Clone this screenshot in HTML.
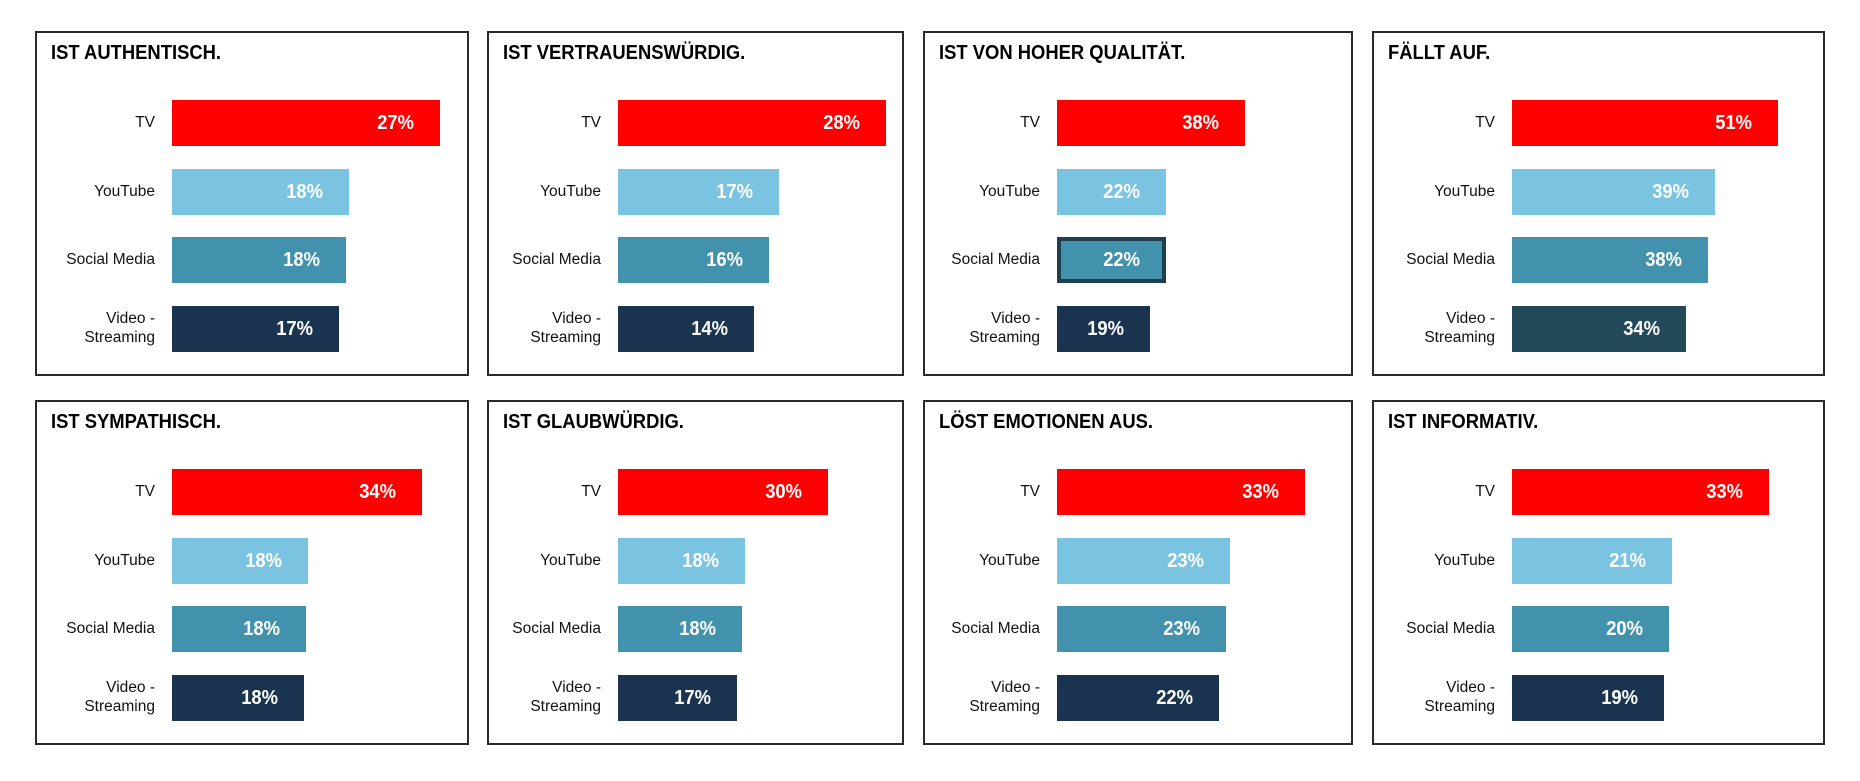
<!DOCTYPE html>
<html><head><meta charset="utf-8"><style>
body{margin:0;width:1860px;height:781px;background:#fff;position:relative;overflow:hidden;font-family:"Liberation Sans Narrow","Liberation Sans",sans-serif;}
.p{position:absolute;height:345px;border:2px solid #2a2a2a;box-sizing:border-box;}
.t{position:absolute;left:14px;top:9px;font-weight:bold;font-size:20px;color:#000;white-space:nowrap;transform:scaleX(0.92);transform-origin:left;}
.b{position:absolute;height:46px;box-sizing:border-box;color:#fff;font-weight:bold;font-size:20px;line-height:46px;text-align:right;padding-right:26px;}
.b span{display:inline-block;transform:scaleX(0.92);transform-origin:right;}
.l{position:absolute;width:118px;text-align:right;font-size:15.5px;color:#111;line-height:19px;}
.r{background:#ff0000}.y{background:#7ac4e2}.s{background:#4292ae}.v{background:#1a334f}
</style></head><body>

<div class="p" style="left:35px;top:31px;width:434px">
<div class="t">IST AUTHENTISCH.</div>
<div class="l" style="left:0;top:80px">TV</div><div class="l" style="left:0;top:149px">YouTube</div><div class="l" style="left:0;top:217px">Social Media</div><div class="l" style="left:0;top:276px">Video -<br>Streaming</div>
<div class="b r" style="left:135px;top:67px;width:268px"><span>27%</span></div>
<div class="b y" style="left:135px;top:136px;width:177px"><span>18%</span></div>
<div class="b s" style="left:135px;top:204px;width:174px"><span>18%</span></div>
<div class="b v" style="left:135px;top:273px;width:167px"><span>17%</span></div>
</div>

<div class="p" style="left:487px;top:31px;width:417px">
<div class="t">IST VERTRAUENSWÜRDIG.</div>
<div class="l" style="left:-6px;top:80px">TV</div><div class="l" style="left:-6px;top:149px">YouTube</div><div class="l" style="left:-6px;top:217px">Social Media</div><div class="l" style="left:-6px;top:276px">Video -<br>Streaming</div>
<div class="b r" style="left:129px;top:67px;width:268px"><span>28%</span></div>
<div class="b y" style="left:129px;top:136px;width:161px"><span>17%</span></div>
<div class="b s" style="left:129px;top:204px;width:151px"><span>16%</span></div>
<div class="b v" style="left:129px;top:273px;width:136px"><span>14%</span></div>
</div>

<div class="p" style="left:923px;top:31px;width:430px">
<div class="t">IST VON HOHER QUALITÄT.</div>
<div class="l" style="left:-3px;top:80px">TV</div><div class="l" style="left:-3px;top:149px">YouTube</div><div class="l" style="left:-3px;top:217px">Social Media</div><div class="l" style="left:-3px;top:276px">Video -<br>Streaming</div>
<div class="b r" style="left:132px;top:67px;width:188px"><span>38%</span></div>
<div class="b y" style="left:132px;top:136px;width:109px"><span>22%</span></div>
<div class="b s" style="left:132px;top:204px;width:109px;border:4px solid #1f3f4f;line-height:38px;padding-right:22px"><span>22%</span></div>
<div class="b v" style="left:132px;top:273px;width:93px"><span>19%</span></div>
</div>

<div class="p" style="left:1372px;top:31px;width:453px">
<div class="t">FÄLLT AUF.</div>
<div class="l" style="left:3px;top:80px">TV</div><div class="l" style="left:3px;top:149px">YouTube</div><div class="l" style="left:3px;top:217px">Social Media</div><div class="l" style="left:3px;top:276px">Video -<br>Streaming</div>
<div class="b r" style="left:138px;top:67px;width:266px"><span>51%</span></div>
<div class="b y" style="left:138px;top:136px;width:203px"><span>39%</span></div>
<div class="b s" style="left:138px;top:204px;width:196px"><span>38%</span></div>
<div class="b" style="left:138px;top:273px;width:174px;background:#234a5a"><span>34%</span></div>
</div>

<div class="p" style="left:35px;top:400px;width:434px">
<div class="t">IST SYMPATHISCH.</div>
<div class="l" style="left:0;top:80px">TV</div><div class="l" style="left:0;top:149px">YouTube</div><div class="l" style="left:0;top:217px">Social Media</div><div class="l" style="left:0;top:276px">Video -<br>Streaming</div>
<div class="b r" style="left:135px;top:67px;width:250px"><span>34%</span></div>
<div class="b y" style="left:135px;top:136px;width:136px"><span>18%</span></div>
<div class="b s" style="left:135px;top:204px;width:134px"><span>18%</span></div>
<div class="b v" style="left:135px;top:273px;width:132px"><span>18%</span></div>
</div>

<div class="p" style="left:487px;top:400px;width:417px">
<div class="t">IST GLAUBWÜRDIG.</div>
<div class="l" style="left:-6px;top:80px">TV</div><div class="l" style="left:-6px;top:149px">YouTube</div><div class="l" style="left:-6px;top:217px">Social Media</div><div class="l" style="left:-6px;top:276px">Video -<br>Streaming</div>
<div class="b r" style="left:129px;top:67px;width:210px"><span>30%</span></div>
<div class="b y" style="left:129px;top:136px;width:127px"><span>18%</span></div>
<div class="b s" style="left:129px;top:204px;width:124px"><span>18%</span></div>
<div class="b v" style="left:129px;top:273px;width:119px"><span>17%</span></div>
</div>

<div class="p" style="left:923px;top:400px;width:430px">
<div class="t">LÖST EMOTIONEN AUS.</div>
<div class="l" style="left:-3px;top:80px">TV</div><div class="l" style="left:-3px;top:149px">YouTube</div><div class="l" style="left:-3px;top:217px">Social Media</div><div class="l" style="left:-3px;top:276px">Video -<br>Streaming</div>
<div class="b r" style="left:132px;top:67px;width:248px"><span>33%</span></div>
<div class="b y" style="left:132px;top:136px;width:173px"><span>23%</span></div>
<div class="b s" style="left:132px;top:204px;width:169px"><span>23%</span></div>
<div class="b v" style="left:132px;top:273px;width:162px"><span>22%</span></div>
</div>

<div class="p" style="left:1372px;top:400px;width:453px">
<div class="t">IST INFORMATIV.</div>
<div class="l" style="left:3px;top:80px">TV</div><div class="l" style="left:3px;top:149px">YouTube</div><div class="l" style="left:3px;top:217px">Social Media</div><div class="l" style="left:3px;top:276px">Video -<br>Streaming</div>
<div class="b r" style="left:138px;top:67px;width:257px"><span>33%</span></div>
<div class="b y" style="left:138px;top:136px;width:160px"><span>21%</span></div>
<div class="b s" style="left:138px;top:204px;width:157px"><span>20%</span></div>
<div class="b v" style="left:138px;top:273px;width:152px"><span>19%</span></div>
</div>

</body></html>
